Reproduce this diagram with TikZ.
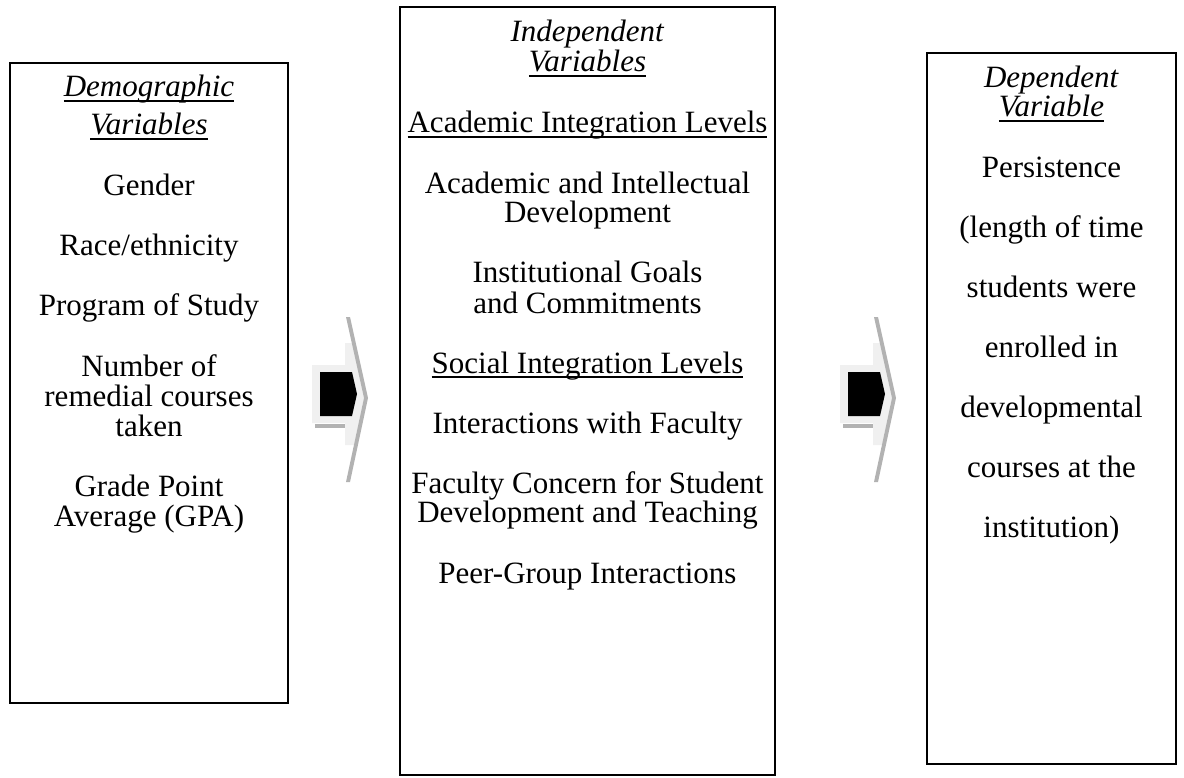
\documentclass[tikz,border=0pt]{standalone}
\usepackage{fontspec}
\setmainfont{Liberation Serif}
\newsavebox{\myulbox}
\newcommand{\ul}[1]{\sbox{\myulbox}{#1}\rlap{\raisebox{-4.6pt}{\rule{\wd\myulbox}{1.7pt}}}\usebox{\myulbox}}
\tikzset{
  boxst/.style={draw=black, line width=2pt, fill=none, inner sep=0pt},
  txt/.style={anchor=base, inner sep=0pt, font=\fontsize{31}{34}\selectfont},
  band/.style={fill=black!30, draw=none},
  lightpart/.style={fill=black!6, draw=none},
  headpart/.style={fill=black, draw=none}
}
\begin{document}
\begin{tikzpicture}[x=1pt,y=-1pt]
\useasboundingbox (0,0) rectangle (1184,778);
% boxes
\node[boxst, minimum width=278pt, minimum height=640pt] (demo) at (149,383) {};
\node[boxst, minimum width=375pt, minimum height=768pt] (indep) at (587.5,391) {};
\node[boxst, minimum width=249pt, minimum height=711pt] (dep) at (1051.5,408.5) {};
% left box text
\foreach \yy/\tt [count=\i] in {
  97/{\ul{\textit{Demographic}}},
  135/{\ul{\textit{Variables}}},
  196/{Gender},
  256/{Race/ethnicity},
  316/{Program of Study},
  376/{Number of},
  406/{remedial courses},
  436/{taken},
  496/{Grade Point},
  526/{Average (GPA)}}
  \node[txt] (l\i) at (149,\yy) {\tt};
% middle box text
\foreach \yy/\tt [count=\i] in {
  42/{\textit{Independent}},
  72/{\ul{\textit{Variables}}},
  133/{\ul{Academic Integration Levels}},
  194/{Academic and Intellectual},
  223/{Development},
  283/{Institutional Goals},
  313/{and Commitments},
  373/{\ul{Social Integration Levels}},
  433/{Interactions with Faculty},
  493/{Faculty Concern for Student},
  522/{Development and Teaching},
  583/{Peer-Group Interactions}}
  \node[txt] (m\i) at (587.5,\yy) {\tt};
% right box text
\foreach \yy/\tt [count=\i] in {
  88/{\textit{Dependent}},
  117/{\ul{\textit{Variable}}},
  178/{Persistence},
  238/{(length of time},
  298/{students were},
  357/{enrolled in},
  417/{developmental},
  477/{courses at the},
  537/{institution)}}
  \node[txt] (r\i) at (1051.5,\yy) {\tt};
% arrows
\foreach \dx in {0,528}{
  \begin{scope}[xshift=\dx pt]
    \fill[lightpart] (312,365) -- (345,365) -- (345,343) -- (352,343) -- (364,398) -- (354,445) -- (345,445) -- (345,423) -- (312,423) -- cycle;
    \fill[band] (346,317) -- (350,317) -- (368,398) -- (350,482) -- (346,482) -- (364,398) -- cycle;
    \fill[band] (315,424) rectangle (345,428);
    \fill[headpart] (320,372) -- (352,372) -- (357,394) -- (352,416) -- (320,416) -- cycle;
  \end{scope}
}
\end{tikzpicture}
\end{document}
